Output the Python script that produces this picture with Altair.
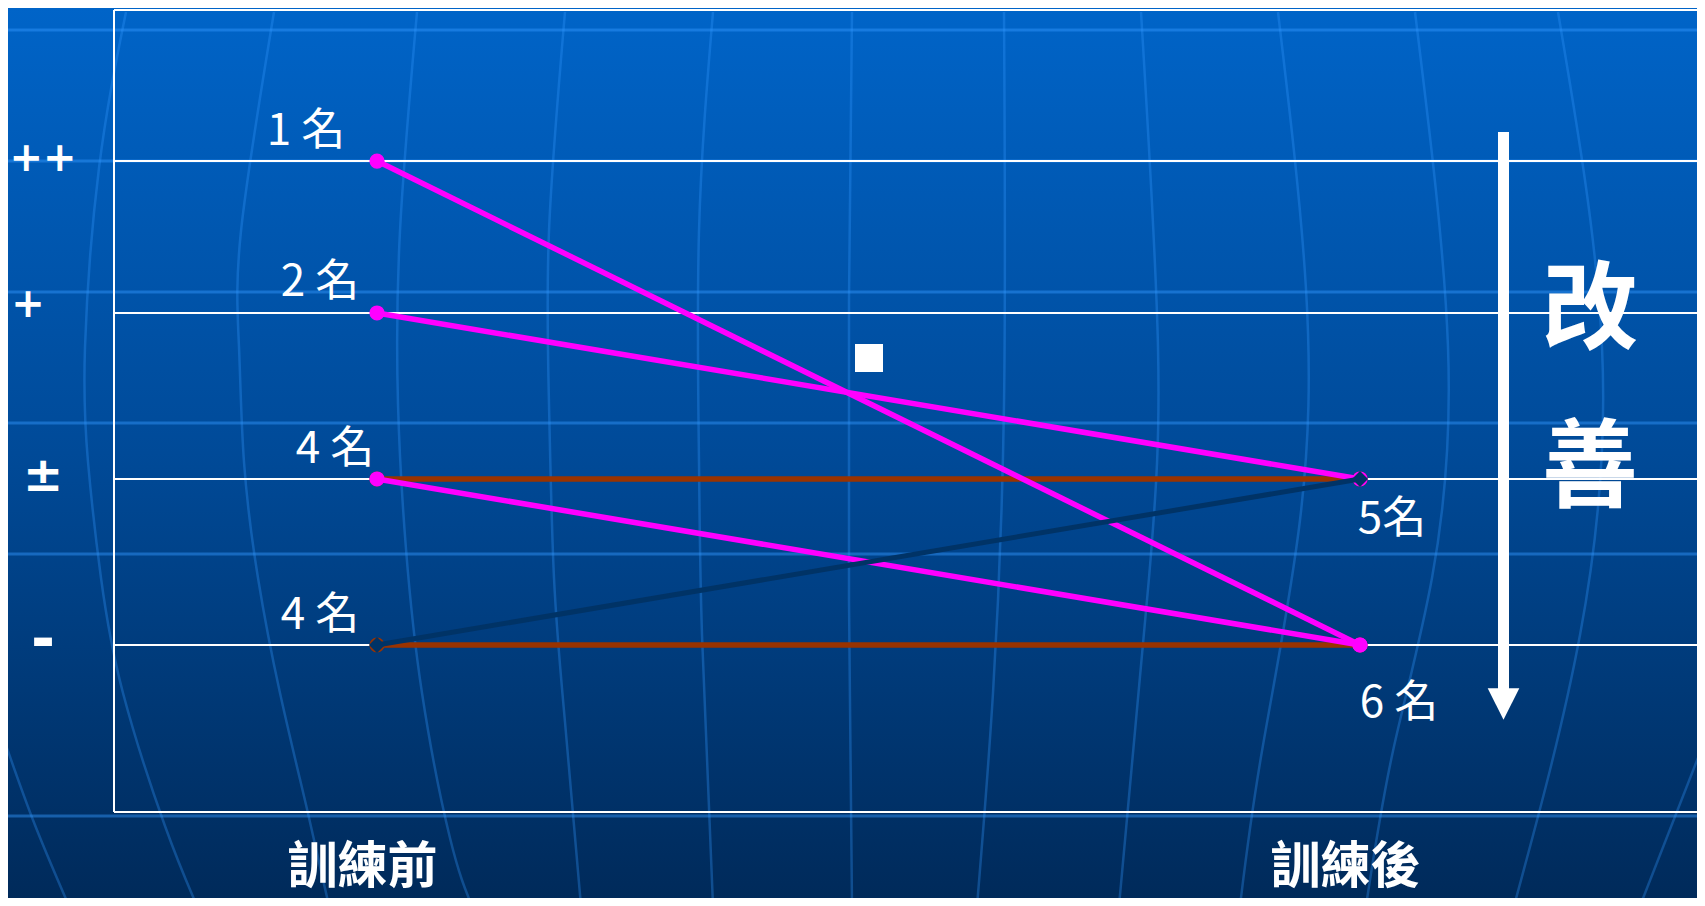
import altair as alt
import pandas as pd

# ---------------- data ----------------
levels = ["++", "+", "±", "-"]
level_pos = [2.915, 2.0, 1.0, 0.0]
stages = ["訓練前", "訓練後"]

seg_before = ["±", "-", "++", "+", "±", "-"]
seg_after = ["±", "-", "-", "±", "-", "±"]
seg_series = ["brown", "brown", "magenta", "magenta", "magenta", "navy"]

count_stage = ["訓練前", "訓練前", "訓練前", "訓練前", "訓練後", "訓練後"]
count_level = ["++", "+", "±", "-", "±", "-"]
count_text = ["1 名", "2 名", "4 名", "4 名", "5名", "6 名"]

side_text = ["改", "善"]

# ---------------- styling / layout ----------------
PAD_L, PAD_T, PAD_R, PAD_B = 106, 2, 0, 86
W, H = 1583, 802
label_offsets = [(-71, -29), (-57, -30), (-42, -29), (-57, -29), (32, 41), (39, 59)]
level_label_style = [(40, 0, -2), (40, -15, -8), (48, 0, -2), (58, 0, -3)]  # (fontSize, dx, dy)
series_color = {"brown": "#993300", "magenta": "#FF00FF", "navy": "#003366"}
series_width = {"brown": 5.5, "magenta": 5.5, "navy": 5}

# background decoration (slide template), pixel coordinates of the slide
bg_hlines = [30, 161, 292, 423, 554, 816]
bg_curves = [
    [(0, 728), (33, 820), (69, 906)],
    [(126, 12), (99, 168), (85, 347), (88, 462), (101, 578), (123, 693), (165, 826), (197, 906)],
    [(274, 12), (241, 231), (239, 347), (244, 462), (258, 578), (280, 693), (307, 809), (329, 906)],
    [(417, 12), (400, 231), (398, 404), (406, 549), (422, 693), (450, 838), (472, 906)],
    [(565, 12), (549, 231), (549, 404), (554, 578), (565, 722), (581, 906)],
    [(713, 12), (699, 231), (699, 462), (702, 635), (713, 906)],
    [(852, 12), (849, 300), (849, 600), (852, 906)],
    [(1004, 12), (1004, 404), (993, 693), (977, 906)],
    [(1141, 12), (1158, 347), (1149, 578), (1119, 906)],
    [(1278, 12), (1306, 289), (1300, 520), (1262, 751), (1240, 906)],
    [(1415, 12), (1448, 347), (1432, 578), (1393, 751), (1366, 906)],
    [(1558, 12), (1602, 347), (1580, 635), (1514, 906)],
    [(1705, 740), (1640, 906)],
]
OX, OY = PAD_L + 8, PAD_T + 8  # slide pixel -> plot pixel

# ---------------- tables ----------------
pos = dict(zip(levels, level_pos))
sidx = {s: i for i, s in enumerate(stages)}

seg_rows = []
for i, (b, a, s) in enumerate(zip(seg_before, seg_after, seg_series)):
    seg_rows.append({"seg": i, "series": s, "t": 0, "v": pos[b]})
    seg_rows.append({"seg": i, "series": s, "t": 1, "v": pos[a]})
seg_df = pd.DataFrame(seg_rows)

lab_df = pd.DataFrame({
    "t": [sidx[s] for s in count_stage],
    "v": [pos[l] for l in count_level],
    "text": count_text,
})
lvl_df = pd.DataFrame({"v": level_pos, "t": [0] * len(levels), "text": levels})

curve_rows = []
for cid, pts in enumerate(bg_curves):
    for k, (px, py) in enumerate(pts):
        curve_rows.append({"cid": cid, "ord": k, "px": px - OX, "py": py - OY})
curve_df = pd.DataFrame(curve_rows)
hline_df = pd.DataFrame({"py": [y - OY for y in bg_hlines]})
one = pd.DataFrame({"a": [0]})

# ---------------- encodings ----------------
stage_expr = "[" + ",".join("'%s'" % s for s in stages) + "][datum.value]"

x_axis = alt.Axis(values=[0, 1], labelExpr=stage_expr, orient="bottom", domain=False,
                  ticks=False, tickSize=0, grid=False, labelFontSize=50,
                  labelFont="Noto Sans CJK TC", labelFontWeight="bold", labelColor="white",
                  labelPadding=30, labelOffset=-15, labelFlush=False, labelOverlap=False,
                  labelBound=False, labelLimit=400, title=None, zindex=1)

X = alt.X("t:Q", scale=alt.Scale(domain=[0, 1], range=[263, 1246]), axis=x_axis)
Y = alt.Y("v:Q", scale=alt.Scale(domain=[-1.006, 3.825], nice=False, zero=False), axis=None)

# ---------------- layers ----------------
bg = alt.Chart(one).mark_rect(
    fill=alt.LinearGradient(
        gradient="linear",
        stops=[alt.GradientStop(color="#0064C8", offset=0),
               alt.GradientStop(color="#004A98", offset=0.5),
               alt.GradientStop(color="#002A5A", offset=1)],
        x1=0, x2=0, y1=0, y2=1),
    strokeWidth=0,
).encode(x=alt.value(-PAD_L), x2=alt.value(W + PAD_R), y=alt.value(-PAD_T), y2=alt.value(H + PAD_B))

bg_h = alt.Chart(hline_df).mark_rule(color="#3399FF", opacity=0.45, strokeWidth=3).encode(
    y=alt.Y("py:Q", scale=None, axis=None), x=alt.value(-PAD_L), x2=alt.value(W + PAD_R))

bg_c = alt.Chart(curve_df).mark_line(color="#3399FF", opacity=0.32, strokeWidth=2.5,
                                     interpolate="natural").encode(
    x=alt.X("px:Q", scale=None, axis=None), y=alt.Y("py:Q", scale=None, axis=None),
    detail="cid:N", order="ord:Q")

grid = alt.Chart(lvl_df).mark_rule(color="white", strokeWidth=2).encode(
    y=Y, x=alt.value(0), x2=alt.value(W))

frame_top = alt.Chart(one).mark_rule(color="white", strokeWidth=2).encode(
    x=alt.value(0), x2=alt.value(W), y=alt.value(0))
frame_left = alt.Chart(one).mark_rule(color="white", strokeWidth=2).encode(
    x=alt.value(0), y=alt.value(0), y2=alt.value(H))
frame_bottom = alt.Chart(one).mark_rule(color="white", strokeWidth=2).encode(
    x=alt.value(0), x2=alt.value(W), y=alt.value(H))

layers = [bg, bg_h, bg_c, grid, frame_top, frame_left, frame_bottom]

# level labels on the left (one per level, as in the slide)
for i in range(len(lvl_df)):
    fs, dx, dy = level_label_style[i]
    layers.append(alt.Chart(lvl_df.iloc[[i]]).mark_text(
        fontSize=fs, fontWeight="bold", font="DejaVu Sans", color="white",
        align="center", baseline="middle", dx=dx, dy=dy).encode(
        x=alt.value(-71), y=Y, text="text:N"))

for s in ["brown", "magenta", "navy"]:
    d = seg_df[seg_df.series == s]
    layers.append(alt.Chart(d).mark_line(color=series_color[s], strokeWidth=series_width[s]).encode(
        x=X, y=Y, detail="seg:N"))
    if s == "navy":
        layers.append(alt.Chart(d).mark_point(shape="diamond", filled=True, size=256, opacity=1,
                                              color=series_color[s]).encode(x=X, y=Y))
    else:
        layers.append(alt.Chart(d).mark_circle(size=230, opacity=1,
                                               color=series_color[s]).encode(x=X, y=Y))

for i in range(len(lab_df)):
    dx, dy = label_offsets[i]
    layers.append(alt.Chart(lab_df.iloc[[i]]).mark_text(
        dx=dx, dy=dy, fontSize=44, font="Noto Sans CJK TC", color="white",
        align="center", baseline="middle").encode(x=X, y=Y, text="text:N"))

# annotation: square bullet, arrow and the vertical word
layers.append(alt.Chart(one).mark_square(size=784, color="white", opacity=1).encode(
    x=alt.value(755), y=alt.value(348)))
layers.append(alt.Chart(one).mark_rule(color="white", strokeWidth=11).encode(
    x=alt.value(1389.5), y=alt.value(122), y2=alt.value(684)))
layers.append(alt.Chart(one).mark_point(shape="M-1,-1L1,-1L0,1Z", filled=True, size=1000,
                                        color="white", opacity=1).encode(
    x=alt.value(1389.5), y=alt.value(694)))
for ch, yy in zip(side_text, [302, 460]):
    layers.append(alt.Chart(one).mark_text(text=ch, fontSize=96, fontWeight="bold",
                                           font="Noto Sans CJK TC", color="white",
                                           align="center", baseline="middle").encode(
        x=alt.value(1476), y=alt.value(yy)))

chart = alt.layer(*layers).properties(
    width=W, height=H,
    padding={"left": PAD_L, "top": PAD_T, "right": PAD_R, "bottom": PAD_B},
    autosize=alt.AutoSizeParams(type="none"),
).configure_view(stroke=None).configure(background="#003F80")

chart.save("out.html", embed_options={"renderer": "svg", "actions": False})
